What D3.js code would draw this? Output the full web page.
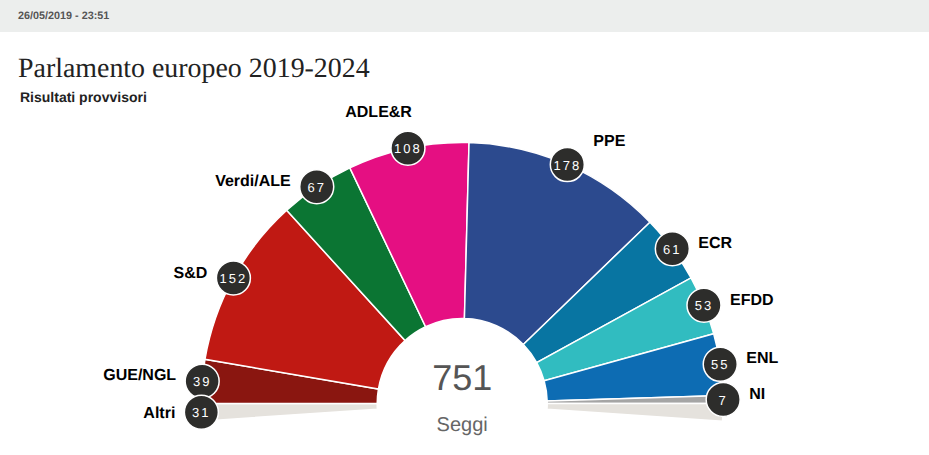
<!DOCTYPE html>
<html>
<head>
<meta charset="utf-8">
<script src="https://cdn.jsdelivr.net/npm/d3@7"></script>
<style>
  html, body { margin: 0; padding: 0; background: #fff; overflow: hidden; }
  svg { display: block; font-family: "Liberation Sans", Arial, sans-serif; text-rendering: geometricPrecision; }
</style>
</head>
<body>
<svg id="chart" width="929" height="455"></svg>
<script>
// seats per group, left to right around the hemicycle
const groups = ["GUE/NGL", "S&D", "Verdi/ALE", "ADLE&R", "PPE", "ECR", "EFDD", "ENL", "NI"];
const seats = [39, 152, 67, 108, 178, 61, 53, 55, 7];
const colors = ["#8a1610", "#c01913", "#0b7533", "#e50f82", "#2c4a8e", "#0875a2", "#31bcc0", "#0d6cb3", "#a5a5a5"];

// "Altri" is not seated on the arc: half of it hangs under each end
const otherName = "Altri";
const otherSeats = 31;
const otherColor = "#e5e2dd";

const totalSeats = 751;
const updatedAt = "26/05/2019 - 23:51";
const title = "Parlamento europeo 2019-2024";
const subtitle = "Risultati provvisori";
const centerLabel = "Seggi";

const svg = d3.select("#chart");
const cx = 462.2, cy = 403.5;
const innerR = 85, outerR = 261;

// header band
svg.append("rect").attr("width", 929).attr("height", 32).attr("fill", "#eceeed");
svg.append("text").attr("x", 18).attr("y", 19)
  .attr("font-size", 10.8).attr("font-weight", "bold").attr("fill", "#555")
  .text(updatedAt);

svg.append("text").attr("x", 18).attr("y", 77)
  .attr("font-family", "'Liberation Serif', serif")
  .attr("font-size", 27.9).attr("fill", "#222")
  .text(title);
svg.append("text").attr("x", 20).attr("y", 102)
  .attr("font-size", 14).attr("font-weight", "bold").attr("fill", "#222")
  .text(subtitle);

const slices = [
  { name: otherName, value: otherSeats / 2, color: otherColor, shown: otherSeats },
  ...groups.map((g, i) => ({ name: g, value: seats[i], color: colors[i], shown: seats[i] })),
  { name: null, value: otherSeats / 2, color: otherColor, shown: null }
];

// 180 degrees hold the seated groups, the Altri halves go past the ends
const arcSeats = d3.sum(seats);
const extra = (otherSeats / 2) / arcSeats * Math.PI;

const pie = d3.pie()
  .sort(null)
  .value(d => d.value)
  .startAngle(-Math.PI / 2 - extra)
  .endAngle(Math.PI / 2 + extra);

const arc = d3.arc().innerRadius(innerR).outerRadius(outerR);
const arcs = pie(slices);

const g = svg.append("g").attr("transform", `translate(${cx},${cy})`);

g.selectAll("path.slice")
  .data(arcs)
  .enter()
  .append("path")
  .attr("class", "slice")
  .attr("d", arc)
  .attr("fill", d => d.data.color)
  .attr("stroke", "#fff")
  .attr("stroke-width", 1.5);

// vertical nudge of each label against its badge
const labelDy = {
  "GUE/NGL": -1, "S&D": 0, "Verdi/ALE": -1, "ADLE&R": -31, "PPE": -19,
  "ECR": -1, "EFDD": 0, "ENL": -1, "NI": -1, "Altri": 6
};

const badgePos = d => {
  const mid = (d.startAngle + d.endAngle) / 2;
  return [Math.sin(mid) * outerR, -Math.cos(mid) * outerR];
};

// Altri goes last, its badge sits over the GUE/NGL one
const badged = arcs.filter(d => d.data.name).sort((a, b) => (a.data.name === otherName) - (b.data.name === otherName));

const badge = g.selectAll("g.badge")
  .data(badged)
  .enter()
  .append("g")
  .attr("class", "badge")
  .attr("transform", d => `translate(${badgePos(d)})`);

badge.append("circle")
  .attr("r", 17)
  .attr("fill", "#2d2d2b")
  .attr("stroke", "#fff")
  .attr("stroke-width", 1.5);

badge.append("text")
  .attr("text-anchor", "middle")
  .attr("y", 5)
  .attr("font-size", 13)
  .attr("letter-spacing", 2)
  .attr("fill", "#fff")
  .text(d => d.data.shown);

badge.append("text")
  .attr("font-size", 16)
  .attr("font-weight", "bold")
  .attr("fill", "#000")
  .attr("text-anchor", d => d.data.name === "ADLE&R" ? "end" : (badgePos(d)[0] < 0 ? "end" : "start"))
  .attr("x", d => d.data.name === "ADLE&R" ? 4 : (badgePos(d)[0] < 0 ? -26 : 26))
  .attr("y", d => labelDy[d.data.name])
  .text(d => d.data.name);

// centre of the hemicycle
g.append("text").attr("text-anchor", "middle").attr("y", -14)
  .attr("font-size", 36).attr("fill", "#555")
  .text(totalSeats);
g.append("text").attr("text-anchor", "middle").attr("y", 27)
  .attr("font-size", 20).attr("fill", "#666")
  .text(centerLabel);
</script>
</body>
</html>
